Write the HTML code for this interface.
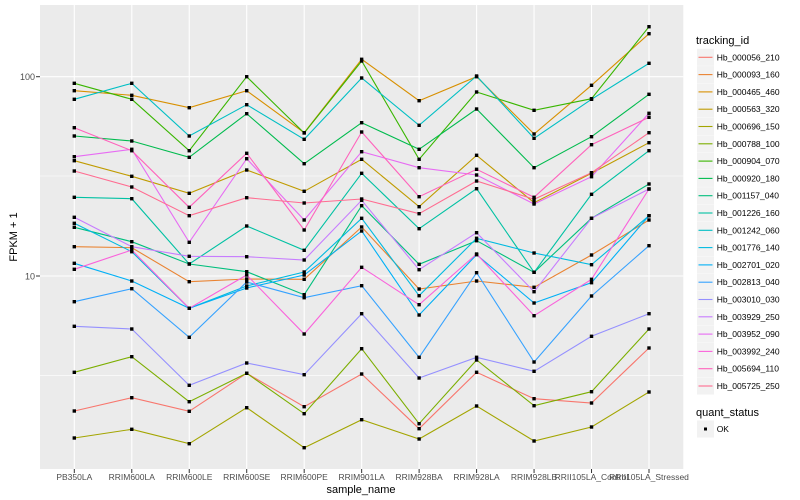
<!DOCTYPE html>
<html><head><meta charset="utf-8"><style>
body{margin:0;background:#fff;}
svg{display:block;font-family:"Liberation Sans",sans-serif;}
</style></head><body>
<svg id="s" width="800" height="500" xmlns="http://www.w3.org/2000/svg">
<rect x="40" y="5" width="643.3" height="464" fill="#ebebeb"/>
<g stroke="#fff" stroke-width="0.55">
<line x1="40" x2="683.3" y1="176" y2="176"/><line x1="40" x2="683.3" y1="375.7" y2="375.7"/>
</g>
<g id="grid" stroke="#fff" stroke-width="1.1">
<line x1="40" x2="683.3" y1="76.7" y2="76.7"/><line x1="40" x2="683.3" y1="276" y2="276"/>
</g>
<g id="lines" fill="none" stroke-width="1.1"></g>
<g id="pts" fill="#000"></g>
<g font-size="9" fill="#4d4d4d" text-anchor="end">
<text x="35" y="80">100</text><text x="35" y="279.5">10</text>
</g>
<g stroke="#333" stroke-width="1"><line x1="36" x2="40" y1="76.7" y2="76.7"/><line x1="36" x2="40" y1="276" y2="276"/></g>
<g id="xl" font-size="8.5" fill="#4d4d4d" text-anchor="middle"></g>
<text x="361" y="493" font-size="11" text-anchor="middle" fill="#000">sample_name</text>
<text transform="translate(17,237) rotate(-90)" font-size="11" text-anchor="middle" fill="#000">FPKM + 1</text>
<text x="696" y="44" font-size="11" fill="#000">tracking_id</text>
<g id="leg" font-size="8.5" fill="#000"></g>
<text x="696" y="416" font-size="11" fill="#000">quant_status</text>
<rect x="697" y="420.5" width="17" height="17" fill="#f2f2f2"/>
<rect x="704" y="427.5" width="3" height="3" fill="#000"/>
<text x="716.7" y="432" font-size="8.5" fill="#000">OK</text>
</svg>
<script>
var X=[];for(var i=0;i<11;i++)X.push(74.3+57.47*i);
var names=["PB350LA","RRIM600LA","RRIM600LE","RRIM600SE","RRIM600PE","RRIM901LA","RRIM928BA","RRIM928LA","RRIM928LB","RRII105LA_Control","RRII105LA_Stressed"];
var S=[
["Hb_000056_210","#F8766D",[411,397.7,411.3,373.3,406.7,374,428.7,372.3,398.7,403,348]],
["Hb_000093_160","#EA8331",[246.7,247.7,281.7,279,279.3,227,289,281,287.3,255,220]],
["Hb_000465_460","#D89000",[90.7,95.3,107.7,90.7,132.7,59.3,100.7,76.7,134,85.3,33.7]],
["Hb_000563_320","#C09B00",[160.7,176.3,193.3,170,191.3,159.3,206.7,155.3,202.7,173.3,142.7]],
["Hb_000696_150","#A3A500",[438,429.3,443.7,407.7,447.7,419.7,439,406,441,427,392]],
["Hb_000788_100","#7CAE00",[372.3,356.7,401.7,373.3,413.7,348.7,423.7,360,405.7,391.7,329]],
["Hb_000904_070","#39B600",[83.3,99.3,150.7,76.7,133,61,159.3,92,110.3,98.7,26.7]],
["Hb_000920_180","#00BB4E",[136,141,157.3,113.7,163.7,122.7,149.3,109,167.7,136.7,94.3]],
["Hb_001157_040","#00BF7D",[227.3,241.7,264,271.7,294.7,205.7,264.3,240.7,272.3,218.3,184]],
["Hb_001226_160","#00C1A3",[197.3,198.7,264,226,250.3,173.3,228.7,188.7,272.3,194.3,150.7]],
["Hb_001242_060","#00BFC4",[99.3,83.3,136,104.7,139.3,78,125.3,76,138.3,99.3,63.3]],
["Hb_001776_140","#00BAE0",[223.3,251.7,308.3,286,272,218.3,295.7,238.3,253,264.7,215.7]],
["Hb_002701_020","#00B0F6",[263.3,281,308.3,288,275,231,315,254.7,303,282.7,215.7]],
["Hb_002813_040","#35A2FF",[301.7,288.7,337.3,282,297.7,285.7,357.3,272.7,362,296,245.7]],
["Hb_003010_030","#9590FF",[326.3,329,385.3,363,374.7,313.7,378,357.3,371.3,336.3,313.7]],
["Hb_003929_250","#C77CFF",[217.3,246.7,256.3,256.7,260,200.3,269.7,232.7,291.7,218.3,189]],
["Hb_003952_090","#E76BF3",[156.7,149.3,242.3,158.7,220,151.7,167.7,175,204,176.7,113.3]],
["Hb_003992_240","#FA62DB",[269.3,250,308.3,275,334,267.3,304.7,254,315.7,279.3,189]],
["Hb_005694_110","#FF62BC",[127.7,150.7,207.3,153.3,230,132,196.7,169.3,197.3,144.7,117.3]],
["Hb_005725_250","#FF6C91",[171,187,215.7,197.7,203,199,213.7,181,199.3,172.7,132.7]]
];
var NS="http://www.w3.org/2000/svg";
function el(t,a,p){var e=document.createElementNS(NS,t);for(var k in a)e.setAttribute(k,a[k]);p.appendChild(e);return e;}
var grid=document.getElementById("grid"),L=document.getElementById("lines"),P=document.getElementById("pts"),xl=document.getElementById("xl"),lg=document.getElementById("leg"),svg=document.getElementById("s");
X.forEach(function(x,i){el("line",{x1:x,x2:x,y1:5,y2:469},grid);el("line",{x1:x,x2:x,y1:469,y2:473,stroke:"#333"},svg);var t=el("text",{x:x,y:480},xl);t.textContent=names[i];});
S.forEach(function(s,j){var d="";s[2].forEach(function(y,i){d+=(i?"L":"M")+X[i].toFixed(1)+","+y;el("rect",{x:X[i]-1.7,y:y-1.7,width:3.4,height:3.4},P);});
el("path",{d:d,stroke:s[1]},L);
var cy=57.3+17.3*j;el("rect",{x:697,y:cy-8.5,width:17,height:17,fill:"#f2f2f2"},lg);
el("line",{x1:698.5,x2:712.5,y1:cy,y2:cy,stroke:s[1],"stroke-width":1.1},lg);
var t=el("text",{x:716.7,y:cy+3},lg);t.textContent=s[0];});
</script>
</body></html>
